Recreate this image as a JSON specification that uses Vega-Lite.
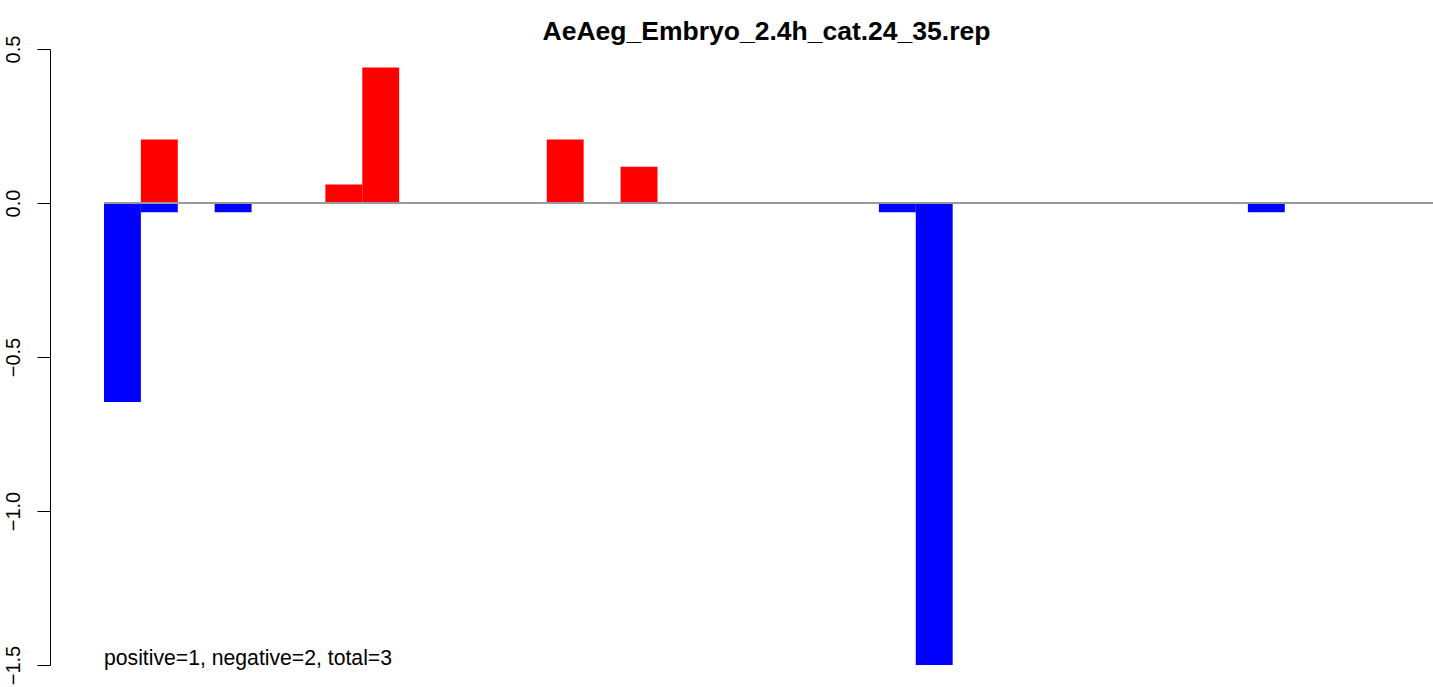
{
  "$schema": "https://vega.github.io/schema/vega-lite/v6.json",
  "width": 1383,
  "height": 616,
  "autosize": {"type": "none"},
  "padding": {"left": 50, "top": 49, "right": 0, "bottom": 22},
  "background": "white",
  "config": {
    "view": {"stroke": null},
    "font": "Liberation Sans"
  },
  "datasets": {
    "bars": [
      {"slot": 0, "value": -0.646, "series": "neg"},
      {"slot": 1, "value": -0.03, "series": "neg"},
      {"slot": 1, "value": 0.206, "series": "pos"},
      {"slot": 3, "value": -0.03, "series": "neg"},
      {"slot": 6, "value": 0.06, "series": "pos"},
      {"slot": 7, "value": 0.44, "series": "pos"},
      {"slot": 12, "value": 0.206, "series": "pos"},
      {"slot": 14, "value": 0.118, "series": "pos"},
      {"slot": 21, "value": -0.03, "series": "neg"},
      {"slot": 22, "value": -1.5, "series": "neg"},
      {"slot": 31, "value": -0.03, "series": "neg"}
    ],
    "note": [{"label": "positive=1, negative=2, total=3"}],
    "heading": [{"label": "AeAeg_Embryo_2.4h_cat.24_35.rep"}]
  },
  "layer": [
    {
      "data": {"name": "bars"},
      "mark": {"type": "bar", "width": 36.9, "clip": true},
      "encoding": {
        "x": {
          "field": "slot",
          "type": "quantitative",
          "scale": {"domain": [-1.963, 35.517], "nice": false, "zero": false, "padding": 0},
          "axis": null
        },
        "y": {
          "field": "value",
          "type": "quantitative",
          "scale": {"domain": [-1.5, 0.5], "nice": false},
          "axis": {
            "values": [-1.5, -1, -0.5, 0, 0.5],
            "format": ".1f",
            "grid": false,
            "title": null,
            "domainColor": "black",
            "domainWidth": 1,
            "tickColor": "black",
            "tickWidth": 1,
            "tickSize": 13,
            "labelAngle": -90,
            "labelAlign": "center",
            "labelBaseline": "bottom",
            "labelPadding": 14,
            "labelFontSize": 20,
            "labelFont": "Liberation Sans",
            "labelColor": "black"
          }
        },
        "color": {
          "field": "series",
          "type": "nominal",
          "scale": {"domain": ["pos", "neg"], "range": ["#FF0000", "#0000FF"]},
          "legend": null
        }
      }
    },
    {
      "data": {"values": [{}]},
      "mark": {"type": "rule", "color": "#999999", "strokeWidth": 2},
      "encoding": {
        "x": {"datum": -0.5, "type": "quantitative"},
        "x2": {"datum": 35.517},
        "y": {"datum": 0, "type": "quantitative"}
      }
    },
    {
      "data": {"name": "note"},
      "mark": {"type": "text", "align": "left", "baseline": "alphabetic", "fontSize": 21.2, "font": "Liberation Sans", "color": "black"},
      "encoding": {
        "text": {"field": "label"},
        "x": {"datum": -0.5, "type": "quantitative"},
        "y": {"datum": -1.5, "type": "quantitative"}
      }
    },
    {
      "data": {"name": "heading"},
      "mark": {"type": "text", "align": "center", "baseline": "alphabetic", "fontSize": 26.5, "fontWeight": "bold", "font": "Liberation Sans", "color": "black", "clip": false},
      "encoding": {
        "text": {"field": "label"},
        "x": {"datum": 17.454, "type": "quantitative"},
        "y": {"datum": 0.529, "type": "quantitative"}
      }
    }
  ]
}
